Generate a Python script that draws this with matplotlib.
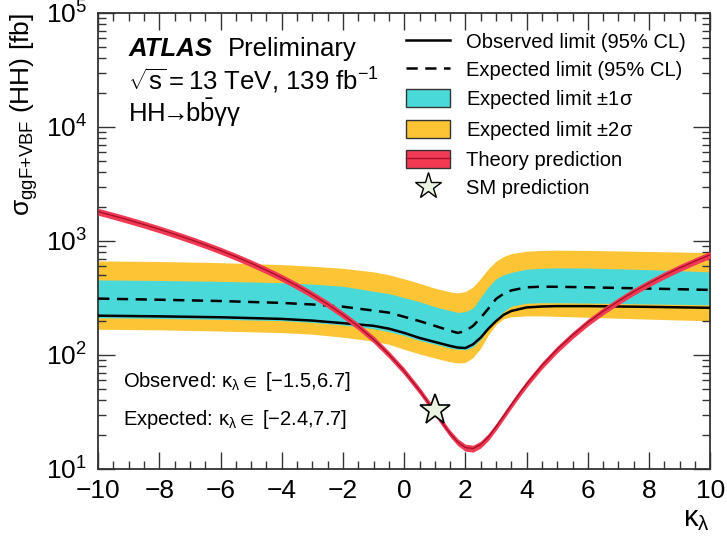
import numpy as np
import matplotlib
matplotlib.use("Agg")
import matplotlib.pyplot as plt
from matplotlib.lines import Line2D
from matplotlib.patches import Patch
from matplotlib.ticker import LogLocator, MultipleLocator, NullFormatter

plt.rcParams['font.family'] = ['Liberation Sans', 'DejaVu Sans']
plt.rcParams['mathtext.fontset'] = 'custom'
plt.rcParams['mathtext.rm'] = 'Liberation Sans'
plt.rcParams['mathtext.it'] = 'Liberation Sans:italic'
plt.rcParams['mathtext.bf'] = 'Liberation Sans:bold'
plt.rcParams['mathtext.sf'] = 'Liberation Sans'
plt.rcParams['mathtext.default'] = 'regular'

# ---------------- data ----------------
kappa = [-10, -8, -6, -4, -3, -2, -1, -0.5, 0, 0.5, 1, 1.5, 1.75, 2, 2.25, 2.5,
         2.75, 3, 3.25, 3.5, 4, 4.5, 5, 6, 8, 10]
observed = [221, 218, 214, 207, 200, 190, 180, 170, 156, 141, 130, 120, 116, 115, 124, 142,
            170, 198, 225, 243, 261, 266, 268, 268, 264, 259]
expected = [312, 305, 297, 286, 277, 265, 245, 235, 216, 198, 180, 163, 156, 162, 180, 212,
            255, 310, 345, 368, 392, 397, 396, 392, 382, 372]
exp_p1 = [455, 450, 442, 430, 418, 400, 362, 345, 318, 293, 265, 245, 236, 240, 258, 320,
          395, 465, 505, 530, 565, 576, 580, 578, 560, 535]
exp_m1 = [212, 209, 205, 200, 193, 183, 170, 160, 148, 134, 124, 115, 112, 111, 118, 137,
          170, 208, 240, 268, 284, 287, 287, 285, 280, 275]
exp_p2 = [668, 660, 645, 620, 600, 575, 535, 505, 465, 425, 385, 357, 350, 360, 395, 470,
          570, 665, 730, 775, 812, 825, 830, 825, 808, 790]
exp_m2 = [168, 166, 162, 157, 152, 143, 132, 124, 112, 102, 94, 87, 85, 86, 95, 115,
          150, 185, 208, 216, 220, 220, 218, 214, 206, 199]

kappa_th = [-10, -9.5, -9, -8.5, -8, -7.5, -7, -6.5, -6, -5.5, -5, -4.5, -4, -3.5, -3, -2.5,
            -2, -1.5, -1, -0.5, 0, 0.5, 0.75, 1, 1.25, 1.5, 1.75, 2, 2.25, 2.5, 2.75, 3,
            3.25, 3.5, 3.75, 4, 4.5, 5, 5.5, 6, 6.5, 7, 7.5, 8, 8.5, 9, 9.5, 10]
theory = [1807, 1663, 1525, 1393, 1266, 1146, 1032, 925, 823, 727, 637, 553, 476, 404, 338, 279,
          225, 178, 137, 101, 72, 48.8, 39.4, 31.6, 25.3, 20.5, 17.2, 15.4, 15.1, 16.4, 19.1, 23.4,
          29.2, 36.5, 45.3, 55.6, 80.8, 112, 149, 193, 242, 297, 359, 426, 500, 580, 665, 757]
theory_rel_unc = 0.07

sm_kappa = 1.0
sm_xsec = 32.8

obs_text = r'Observed: $\kappa_{\lambda} \in$ [$-$1.5,6.7]'
exp_text = r'Expected: $\kappa_{\lambda} \in$ [$-$2.4,7.7]'

# ---------------- plot ----------------
fig = plt.figure(figsize=(7.27, 5.39), dpi=100)
ax = fig.add_axes([0.135, 0.130, 0.842, 0.846])

c_1s = '#4ad9d9'
c_2s = '#fdc536'
c_red = '#f23a55'
c_redline = '#a8102a'

k = np.array(kappa)
ax.fill_between(k, exp_m2, exp_p2, color=c_2s, lw=0, zorder=1)
ax.fill_between(k, exp_m1, exp_p1, color=c_1s, lw=0, zorder=2)
ax.plot(k, expected, color='black', ls=(0, (4.5, 3)), lw=1.8, zorder=3)
ax.plot(k, observed, color='black', ls='-', lw=1.8, zorder=4)

kt = np.array(kappa_th)
th = np.array(theory)
ax.fill_between(kt, th * (1 - theory_rel_unc), th * (1 + theory_rel_unc), color=c_red, lw=0, zorder=5)
ax.plot(kt, th, color=c_redline, lw=1.0, zorder=6)

ax.plot([sm_kappa], [sm_xsec], marker='*', ms=23, mfc='#eaf3e2', mec='black', mew=1.2,
        ls='none', zorder=7)

ax.set_yscale('log')
ax.set_xlim(-10, 10)
ax.set_ylim(10, 1e5)

ax.xaxis.set_major_locator(MultipleLocator(2))
ax.xaxis.set_minor_locator(MultipleLocator(0.5))
ax.yaxis.set_major_locator(LogLocator(base=10, numticks=10))
ax.yaxis.set_minor_locator(LogLocator(base=10, subs=np.arange(2, 10), numticks=20))
ax.yaxis.set_minor_formatter(NullFormatter())

ax.tick_params(which='both', direction='in', top=True, right=True, labelsize=19,
               width=1.0, color='#333333')
ax.tick_params(which='major', length=12)
ax.tick_params(axis='x', which='major', pad=7)
ax.tick_params(axis='y', which='major', pad=8)
ax.tick_params(which='minor', length=6)
for sp in ax.spines.values():
    sp.set_linewidth(1.3)
    sp.set_color('#333333')

ax.set_xlabel(r'$\kappa_{\lambda}$', loc='right', fontsize=21, labelpad=2)
ax.set_ylabel(r'$\sigma_{ggF{+}VBF}$ (HH) [fb]', loc='top', fontsize=19)

ax.text(0.049, 0.905, 'ATLAS', transform=ax.transAxes, fontsize=18.5, weight='bold',
        style='italic')
ax.text(0.212, 0.905, 'Preliminary', transform=ax.transAxes, fontsize=18.5)
ax.text(0.049, 0.830, r'$\sqrt{s} = 13$ TeV, 139 fb$^{-1}$', transform=ax.transAxes, fontsize=18.5)
ax.text(0.049, 0.760, r'HH$\!\!\rightarrow\!\!$b$\bar{\mathrm{b}}\gamma\gamma$',
        transform=ax.transAxes, fontsize=18.5)

ax.text(0.04, 0.180, obs_text, transform=ax.transAxes, fontsize=14.5)
ax.text(0.04, 0.097, exp_text, transform=ax.transAxes, fontsize=14.5)

handles = [
    Line2D([], [], color='black', lw=1.8),
    Line2D([], [], color='black', lw=1.8, ls=(0, (4.5, 3))),
    Patch(facecolor=c_1s, edgecolor='#333333', lw=1.0),
    Patch(facecolor=c_2s, edgecolor='#333333', lw=1.0),
    (Patch(facecolor=c_red, edgecolor='#333333', lw=1.0), Line2D([], [], color=c_redline, lw=1.0)),
    Line2D([], [], marker='*', ms=20, mfc='#eaf3e2', mec='black', mew=1.0, ls='none'),
]
labels = ['Observed limit (95% CL)', 'Expected limit (95% CL)', r'Expected limit $\pm$1$\sigma$',
          r'Expected limit $\pm$2$\sigma$', 'Theory prediction', 'SM prediction']
ax.legend(handles, labels, loc='upper left', bbox_to_anchor=(0.49, 0.975), frameon=False,
          fontsize=14.5, handlelength=2.2, handleheight=1.0, labelspacing=0.40,
          handletextpad=0.75, borderaxespad=0.0)

fig.savefig('out.png', dpi=100)
